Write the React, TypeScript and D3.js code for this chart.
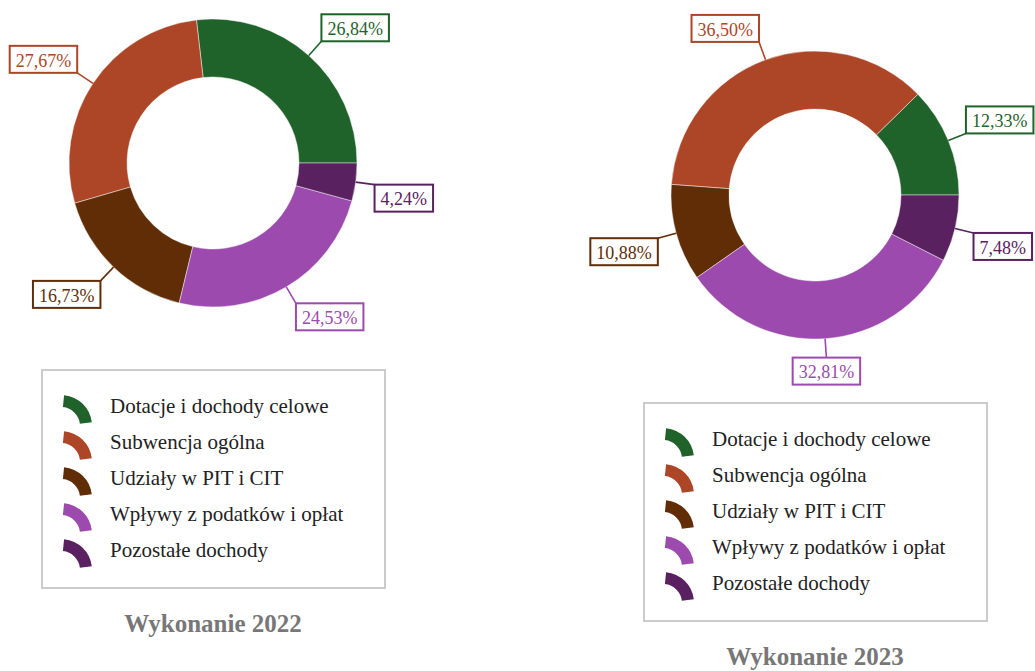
import React, { useRef, useEffect } from 'react';
import * as d3 from 'd3';

const categories = [
  'Dotacje i dochody celowe',
  'Subwencja ogólna',
  'Udziały w PIT i CIT',
  'Wpływy z podatków i opłat',
  'Pozostałe dochody',
];
const colors = ['#1f622a', '#ad4527', '#612d07', '#9d4aae', '#5a2161'];
const values2022 = [26.84, 27.67, 16.73, 24.53, 4.24];
const values2023 = [12.33, 36.5, 10.88, 32.81, 7.48];
const titles = ['Wykonanie 2022', 'Wykonanie 2023'];

const WIDTH = 1035;
const HEIGHT = 671;
const OUTER = 144;
const INNER = 86;
const LABEL_R = 163;
const FONT = "'Liberation Serif', 'Times New Roman', Times, serif";

// layout of the two panels
const panels = [
  { values: values2022, title: titles[0], cx: 213, cy: 163, legendY: 370, titleY: 632 },
  { values: values2023, title: titles[1], cx: 815, cy: 195, legendY: 403, titleY: 665 },
];

const fmt = (v: number) => v.toFixed(2).replace('.', ',') + '%';

const App: React.FC = () => {
  const svgRef = useRef<SVGSVGElement>(null);

  useEffect(() => {
    if (!svgRef.current) return;
    const svg = d3.select(svgRef.current);
    svg.selectAll('*').remove();

    const pie = d3.pie<number>()
      .sort(null)
      .startAngle(Math.PI / 2)
      .endAngle(Math.PI / 2 - 2 * Math.PI);

    const arc = d3.arc<d3.PieArcDatum<number>>()
      .innerRadius(INNER)
      .outerRadius(OUTER);

    const iconArc = d3.arc()({
      innerRadius: 19,
      outerRadius: 31,
      startAngle: 0.1,
      endAngle: 1.45,
    } as any) as string;

    panels.forEach(p => {
      const g = svg.append('g').attr('transform', `translate(${p.cx},${p.cy})`);
      const arcs = pie(p.values);

      // slices
      g.selectAll('path.slice')
        .data(arcs)
        .enter()
        .append('path')
        .attr('class', 'slice')
        .attr('d', arc)
        .attr('fill', (_, i) => colors[i])
        .attr('stroke', '#fff')
        .attr('stroke-opacity', 0.45)
        .attr('stroke-width', 1);

      // labels with leader lines
      arcs.forEach((a, i) => {
        const mid = (a.startAngle + a.endAngle) / 2;
        const s = Math.sin(mid);
        const c = Math.cos(mid);
        const ox = OUTER * s, oy = -OUTER * c;
        const ax = LABEL_R * s, ay = -LABEL_R * c;

        g.append('line')
          .attr('x1', ox).attr('y1', oy)
          .attr('x2', ax).attr('y2', ay)
          .attr('stroke', colors[i])
          .attr('stroke-width', 1.6);

        const lg = g.append('g');
        const rect = lg.append('rect');
        const txt = lg.append('text')
          .style('font-family', FONT)
          .style('font-size', '18px')
          .attr('fill', colors[i])
          .attr('text-anchor', 'middle')
          .attr('dy', '0.35em')
          .text(fmt(p.values[i]));
        const tw = (txt.node() as SVGTextElement).getComputedTextLength();
        const bw = tw + 12;
        const bh = 27;
        let bx: number;
        if (Math.abs(s) < 0.3) bx = ax - bw / 2;
        else bx = s > 0 ? ax : ax - bw;
        const by = c > 0 ? ay - bh : ay;
        rect.attr('x', bx).attr('y', by)
          .attr('width', bw).attr('height', bh)
          .attr('fill', '#fff')
          .attr('stroke', colors[i])
          .attr('stroke-width', 2);
        txt.attr('x', bx + bw / 2).attr('y', by + bh / 2 + 1);
      });

      // legend
      const lx = p.cx - 171;
      svg.append('rect')
        .attr('x', lx).attr('y', p.legendY)
        .attr('width', 343).attr('height', 218)
        .attr('fill', '#fff')
        .attr('stroke', '#cccccc')
        .attr('stroke-width', 2);

      categories.forEach((name, i) => {
        const base = p.legendY + 43 + i * 36;
        svg.append('path')
          .attr('d', iconArc)
          .attr('transform', `translate(${lx + 19},${base + 13})`)
          .attr('fill', colors[i]);
        svg.append('text')
          .attr('x', lx + 68)
          .attr('y', base)
          .style('font-family', FONT)
          .style('font-size', '21px')
          .attr('fill', '#222')
          .text(name);
      });

      // title
      svg.append('text')
        .attr('x', p.cx)
        .attr('y', p.titleY)
        .attr('text-anchor', 'middle')
        .style('font-family', FONT)
        .style('font-size', '25px')
        .style('font-weight', 'bold')
        .attr('fill', '#777')
        .text(p.title);
    });
  }, []);

  return (
    <svg
      ref={svgRef}
      width={WIDTH}
      height={HEIGHT}
      style={{ position: 'absolute', left: 0, top: 0, background: '#fff' }}
    />
  );
};

export default App;
